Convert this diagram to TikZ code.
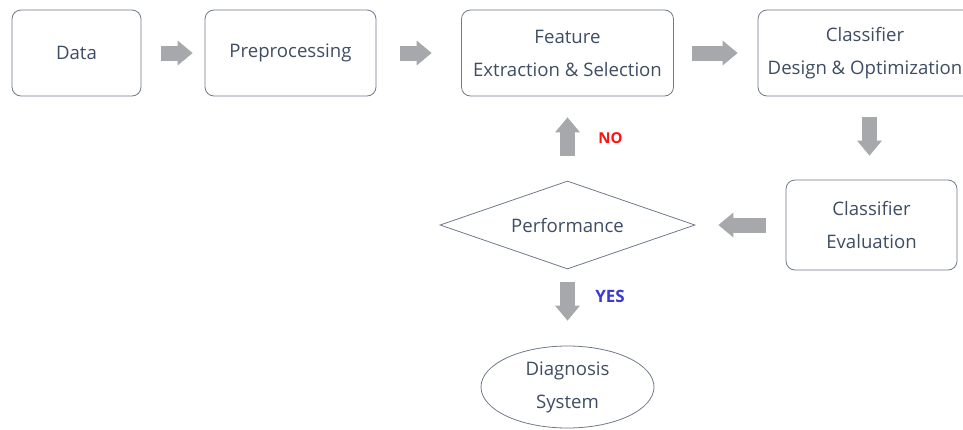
\documentclass[tikz,border=0pt]{standalone}
\usepackage{fontspec}
\setmainfont{Open Sans}
\usepackage{tikz}
\usetikzlibrary{shapes.geometric,arrows.meta}

\definecolor{boxline}{HTML}{6E7A8C}
\definecolor{boxtext}{HTML}{3E4D63}
\definecolor{arrowgray}{HTML}{A6A8AB}
\definecolor{nored}{HTML}{FF1010}
\definecolor{yesblue}{HTML}{3A3AD0}

\tikzset{
  every node/.style={text=boxtext, font=\fontsize{18.6}{33}\selectfont},
  stage/.style={draw=boxline, line width=0.8pt, rounded corners=9pt, minimum height=86pt, align=center},
  decision/.style={draw=boxline, line width=0.8pt, diamond, aspect=2.9, minimum width=255pt, minimum height=88pt, inner sep=0pt},
  result/.style={draw=boxline, line width=0.8pt, ellipse, minimum width=173pt, minimum height=82pt, align=center, inner sep=0pt},
  blockarrow/.style={color=arrowgray, line width=15pt, -{Triangle[width=25pt,length=15pt,line width=0pt]}},
  answer/.style={font=\fontsize{15}{18}\selectfont\bfseries},
}

\begin{document}
\begin{tikzpicture}[x=1pt,y=-1pt]
    \useasboundingbox (0,0) rectangle (963,429);
    \node[stage, minimum width=129pt] (data) at (76.5,53) {Data};
    \node[stage, minimum width=171pt] (prep) at (290.5,53) {Preprocessing};
    \node[stage, minimum width=212pt] (feat) at (567.5,53) {Feature\\Extraction \& Selection};
    \node[stage, minimum width=214pt] (clsdesign) at (865,53) {Classifier\\Design \& Optimization};
    \node[decision] (perf) at (567.5,225) {Performance};
    \node[stage, minimum width=171pt, minimum height=90pt] (clseval) at (871.5,225) {Classifier\\Evaluation};
    \node[result] (diag) at (567.5,387) {Diagnosis\\System};
    \path[blockarrow]
    (data) edge[shorten <=20pt, shorten >=12pt] (prep)
    (prep) edge[shorten <=24pt, shorten >=29.5pt] (feat)
    (feat) edge[shorten <=18.5pt, shorten >=20pt] (clsdesign)
    ([xshift=4.5pt]clsdesign.south) edge[shorten <=21pt, shorten >=24pt] ([xshift=-2pt]clseval.north)
    (clseval) edge[shorten <=20pt, shorten >=23pt] (perf)
    (perf) edge[shorten <=25pt, shorten >=21pt] node[answer, text=nored, right=20pt] {NO} (feat)
    (perf) edge[shorten <=13pt, shorten >=25pt] node[answer, text=yesblue, font=\fontsize{17}{20}\selectfont\bfseries, pos=0.35, right=17pt] {YES} (diag);
\end{tikzpicture}
\end{document}
